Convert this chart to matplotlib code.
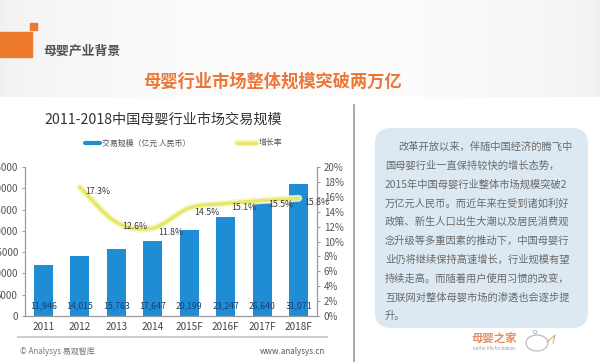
import numpy as np
import matplotlib
matplotlib.use('Agg')
import matplotlib.pyplot as plt
from matplotlib.patches import Rectangle, FancyBboxPatch, Ellipse, PathPatch
from matplotlib.path import Path

plt.rcParams['font.family'] = ['Noto Sans CJK SC', 'DejaVu Sans']

# ---------------- data ----------------
years = ['2011', '2012', '2013', '2014', '2015F', '2016F', '2017F', '2018F']
volume = [11946, 14015, 15763, 17647, 20199, 23247, 26640, 31071]
growth_years = ['2012', '2013', '2014', '2015F', '2016F', '2017F', '2018F']
growth = [17.3, 12.6, 11.8, 14.5, 15.1, 15.5, 15.8]
left_ticks = [0, 5000, 10000, 15000, 20000, 25000, 30000, 35000]
right_ticks = [0, 2, 4, 6, 8, 10, 12, 14, 16, 18, 20]

section_title = '母婴产业背景'
slide_title = '母婴行业市场整体规模突破两万亿'
chart_title = '2011-2018中国母婴行业市场交易规模'
legend_bar = '交易规模（亿元 人民币）'
legend_line = '增长率'
footer_left = '© Analysys 易观智库'
footer_right = 'www.analysys.cn'
body_lines = [
    '改革开放以来，伴随中国经济的腾飞中',
    '国母婴行业一直保持较快的增长态势，',
    '2015年中国母婴行业整体市场规模突破2',
    '万亿元人民币。而近年来在受到诸如利好',
    '政策、新生人口出生大潮以及居民消费观',
    '念升级等多重因素的推动下，中国母婴行',
    '业仍将继续保持高速增长，行业规模有望',
    '持续走高。而随着用户使用习惯的改变，',
    '互联网对整体母婴市场的渗透也会逐步提',
    '升。',
]
logo_text = '母婴之家'
logo_sub = 'better life for babies'

W, H = 600, 362
fig = plt.figure(figsize=(W / 100, H / 100), dpi=100)
fig.patch.set_facecolor('white')

# ---------------- background / decorations (pixel axes) ----------------
bg = fig.add_axes([0, 0, 1, 1], zorder=0)
bg.set_xlim(0, W)
bg.set_ylim(H, 0)
bg.axis('off')

grad = np.linspace(0, 1, 300)
g = 0.945 + 0.045 * np.sin(np.pi * grad) ** 0.6
img = np.repeat(np.dstack([g, g, g]), 2, axis=0)
bg.imshow(img, extent=(0, W, 97, 0), aspect='auto', zorder=0)

bg.add_patch(Rectangle((0, 32), 32, 25, color='#ee7a2e', zorder=1))
bg.add_patch(Rectangle((30, 23), 7, 7, color='#ee7a2e', zorder=1))
bg.text(43, 51, section_title, fontsize=9.3, color='#555555',
        fontweight='bold', va='center', ha='left', zorder=2)
bg.text(272, 82, slide_title, fontsize=12.4, color='#ec7636',
        fontweight='bold', va='center', ha='center', zorder=2)

# chart title + legend
bg.text(44, 120, chart_title, fontsize=10.2, color='#333333',
        va='center', ha='left', zorder=2)
bg.plot([85, 100], [143, 143], color='#1f8dd6', lw=3, solid_capstyle='round', zorder=2)
bg.text(102, 143, legend_bar, fontsize=5.7, color='#555555', va='center', ha='left', zorder=2)
bg.plot([237, 256], [143, 143], color='#f5f5b8', lw=4.5, solid_capstyle='round', zorder=2)
bg.plot([237, 256], [143, 143], color='#e6e66a', lw=2.2, solid_capstyle='round', zorder=2)
bg.text(259, 143, legend_line, fontsize=5.7, color='#555555', va='center', ha='left', zorder=2)

# separator and footer
bg.plot([18, 327], [337, 337], color='#cfcfcf', lw=1.5, zorder=2)
bg.text(20, 351, footer_left, fontsize=5.8, color='#777777', va='center', ha='left', zorder=2)
bg.text(325, 351, footer_right, fontsize=5.8, color='#555555', va='center', ha='right', zorder=2)

# vertical divider
bg.plot([354, 354], [105, 362], color='#9a9a9a', lw=1.2, zorder=2)

# text box
box = FancyBboxPatch((375, 128), 213, 200, boxstyle='round,pad=0,rounding_size=16',
                     facecolor='#dde9f2', edgecolor='none', zorder=1)
bg.add_patch(box)
y0, dy = 147, 18.8
for k, line in enumerate(body_lines):
    x = 398 if k == 0 else 385
    bg.text(x, y0 + k * dy, line, fontsize=7.4, color='#6a6a6a',
            va='center', ha='left', zorder=2)

# logo
bg.text(494, 339, logo_text, fontsize=8.2, color='#e58d62', fontweight='bold',
        va='center', ha='center', zorder=2)
bg.text(494, 348.5, logo_sub, fontsize=3.2, color='#999999', va='center', ha='center', zorder=2)
bg.add_patch(Ellipse((537, 343), 22, 16, facecolor='white', edgecolor='#b5b5b5', lw=0.8, zorder=2))
bg.plot([547, 555, 553], [342, 335, 343], color='#d9b070', lw=0.8, zorder=2)
bg.add_patch(Ellipse((535, 332), 4, 3, facecolor='none', edgecolor='#b5b5b5', lw=0.6, zorder=2))

# ---------------- chart ----------------
ax = fig.add_axes([25 / W, (H - 316) / H, 292 / W, 149 / H], zorder=3)
ax.patch.set_visible(False)
x = np.arange(len(years))
ax.bar(x, volume, width=0.52, color='#1f8dd6', zorder=2)
ax.set_xlim(-0.5, len(years) - 0.5)
ax.set_ylim(0, 35000)
ax.set_yticks(left_ticks)
ax.set_yticklabels([str(t) for t in left_ticks])
ax.set_xticks(x)
ax.set_xticklabels(years)
for s in ['top', 'right']:
    ax.spines[s].set_visible(False)
for s in ['left', 'bottom']:
    ax.spines[s].set_color('#9a9a9a')
    ax.spines[s].set_linewidth(0.9)
ax.tick_params(axis='y', length=2.5, width=0.7, color='#9a9a9a', pad=2.5,
               labelsize=7, labelcolor='#555555')
ax.tick_params(axis='x', length=0, pad=4, labelsize=7.2, labelcolor='#444444')

for xi, v in zip(x, volume):
    ax.text(xi, 2300, f'{v:,}', fontsize=6.3, color='#1c3d70',
            ha='center', va='center', zorder=4)

ax2 = ax.twinx()
ax2.patch.set_visible(False)
ax2.set_ylim(0, 20)
ax2.set_yticks(right_ticks)
ax2.set_yticklabels([f'{t}%' for t in right_ticks])
for s in ['top', 'left', 'bottom']:
    ax2.spines[s].set_visible(False)
ax2.spines['right'].set_color('#9a9a9a')
ax2.spines['right'].set_linewidth(0.9)
ax2.tick_params(axis='y', length=2.5, width=0.7, color='#9a9a9a', pad=2.5,
                labelsize=7, labelcolor='#555555')

gx = np.array([years.index(y) for y in growth_years], dtype=float)
gy = np.array(growth, dtype=float)
pts = np.column_stack([gx, gy])
verts = [pts[0]]
codes = [Path.MOVETO]
n = len(pts)
for i in range(n - 1):
    p0 = pts[i - 1] if i > 0 else pts[i]
    p1, p2 = pts[i], pts[i + 1]
    p3 = pts[i + 2] if i + 2 < n else pts[i + 1]
    c1 = p1 + (p2 - p0) / 6.0
    c2 = p2 - (p3 - p1) / 6.0
    verts += [c1, c2, p2]
    codes += [Path.CURVE4] * 3
path = Path(verts, codes)
ax2.add_patch(PathPatch(path, facecolor='none', edgecolor='#f7f7c4', lw=5.0,
                        capstyle='round', zorder=3, alpha=0.9))
ax2.add_patch(PathPatch(path, facecolor='none', edgecolor='#e6e66a', lw=2.3,
                        capstyle='round', zorder=4))

for xi, yi in zip(gx, gy):
    ax2.annotate(f'{yi:.1f}%', (xi, yi), xytext=(13, -3), textcoords='offset points',
                 fontsize=6.3, color='#3a3a3a', ha='center', va='center', zorder=5)

fig.savefig('out.png', dpi=100, facecolor=fig.get_facecolor())
